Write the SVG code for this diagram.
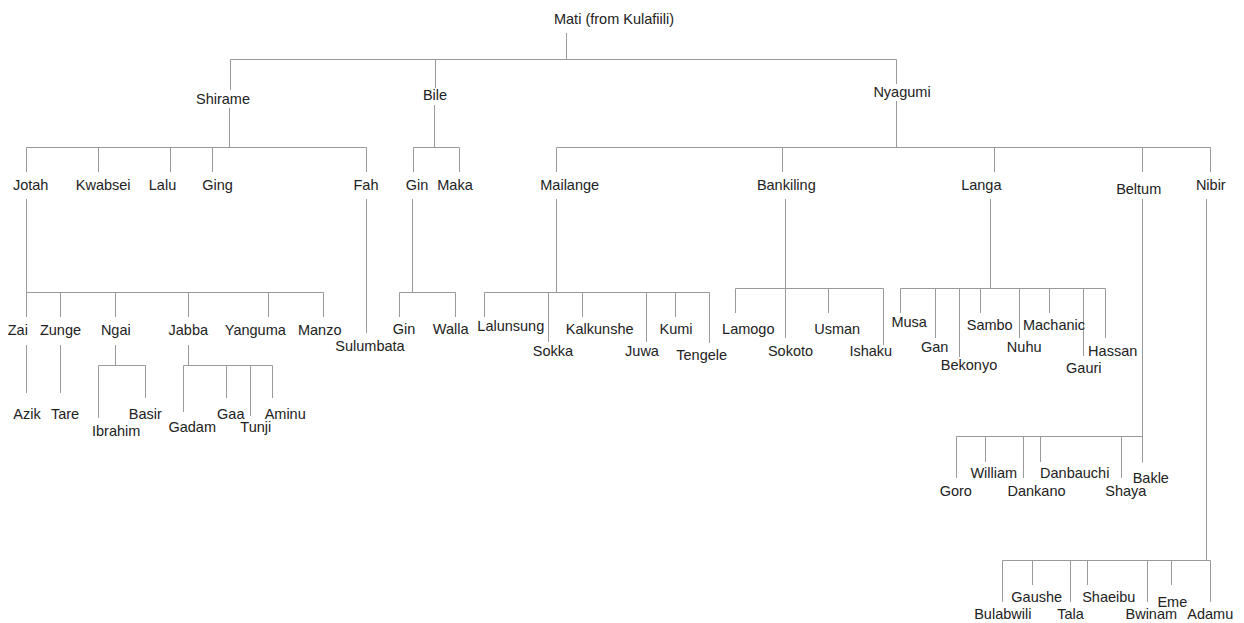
<svg xmlns="http://www.w3.org/2000/svg" width="1244" height="623" viewBox="0 0 1244 623">
  <style>
    .bg { fill: #ffffff; }
    .lines path { fill: none; stroke: #9a9a9a; stroke-width: 1; }
    text { font-family: "Liberation Sans", Arial, sans-serif; font-size: 14.5px; fill: #222222; text-anchor: middle; }
  </style>
  <rect class="bg" x="0" y="0" width="1244" height="623"/>

  <!-- tree connectors -->
  <g id="connectors" class="lines">
    <!-- root -->
    <path d="M566.5 33V59.5M230.5 59.5H896.5"/>
    <!-- Shirame -->
    <path d="M230.5 59.5V90M229.5 108V147.5M26.5 147.5H366.5M26.5 147.5V172M98.5 147.5V172M170.5 147.5V172M212.5 147.5V172M366.5 147.5V172"/>
    <!-- Bile -->
    <path d="M435.5 59.5V88M434.5 105V147.5M413.5 147.5H459.5M413.5 147.5V172M459.5 147.5V172"/>
    <!-- Nyagumi -->
    <path d="M896.5 59.5V84M896.5 101V147.5M556.5 147.5H1210.5M556.5 147.5V172M782.5 147.5V172M994.5 147.5V172M1142.5 147.5V172M1210.5 147.5V172"/>
    <!-- Jotah -->
    <path d="M26.5 199V292.5H323.5M26.5 292.5V317M60.5 292.5V317M115.5 292.5V317M188.5 292.5V317M268.5 292.5V317M323.5 292.5V317"/>
    <!-- Fah -->
    <path d="M366.5 199V333"/>
    <!-- Gin -->
    <path d="M412.5 199V292.5M399.5 292.5H455.5M399.5 292.5V317M455.5 292.5V317"/>
    <!-- Mailange -->
    <path d="M556.5 199V292.5M484.5 292.5H709.5M484.5 292.5V317M548.5 292.5V342M582.5 292.5V317M646.5 292.5V342M675.5 292.5V317M709.5 292.5V343"/>
    <!-- Bankiling -->
    <path d="M785.5 199V338M735.5 288.5H883.5M735.5 288.5V313M828.5 288.5V313M883.5 288.5V345"/>
    <!-- Langa -->
    <path d="M990.5 199V288.5M900.5 288.5H1105.5M900.5 288.5V313M935.5 288.5V338M959.5 288.5V357M980.5 288.5V313M1019.5 288.5V338M1049.5 288.5V313M1083.5 288.5V356M1105.5 288.5V338"/>
    <!-- Beltum -->
    <path d="M1142.5 199V462.5M956.5 436.5H1142.5M956.5 436.5V478M985.5 436.5V462M1023.5 436.5V478M1040.5 436.5V462M1121.5 436.5V478"/>
    <!-- Nibir -->
    <path d="M1206.5 199V560.5M1002.5 560.5H1210.5M1002.5 560.5V602M1032.5 560.5V585M1070.5 560.5V602M1087.5 560.5V585M1147.5 560.5V602M1171.5 560.5V585M1210.5 560.5V602"/>
    <!-- Zai, Zunge -->
    <path d="M26.5 345V393M60.5 345V393"/>
    <!-- Ngai -->
    <path d="M115.5 345V365.5M98.5 365.5H145.5M98.5 365.5V418M145.5 365.5V398"/>
    <!-- Jabba -->
    <path d="M188.5 345V365.5M183.5 365.5H272.5M183.5 365.5V412M226.5 365.5V398M250.5 365.5V416M272.5 365.5V398"/>
  </g>

  <!-- root -->
  <g id="mati"><text x="614" y="24">Mati (from Kulafiili)</text></g>

  <!-- generation 1 -->
  <g id="shirame"><text x="223" y="104">Shirame</text></g>
  <g id="bile"><text x="435" y="100">Bile</text></g>
  <g id="nyagumi"><text x="902" y="96.5">Nyagumi</text></g>

  <!-- generation 2 -->
  <g id="jotah"><text x="30.7" y="189.5">Jotah</text></g>
  <g id="kwabsei"><text x="103.2" y="189.5">Kwabsei</text></g>
  <g id="lalu"><text x="162.5" y="189.5">Lalu</text></g>
  <g id="ging"><text x="217.5" y="189.5">Ging</text></g>
  <g id="fah"><text x="366" y="189.5">Fah</text></g>
  <g id="gin-1"><text x="417" y="189.5">Gin</text></g>
  <g id="maka"><text x="455" y="189.5">Maka</text></g>
  <g id="mailange"><text x="569.7" y="189.5">Mailange</text></g>
  <g id="bankiling"><text x="786.3" y="189.5">Bankiling</text></g>
  <g id="langa"><text x="981.3" y="189.5">Langa</text></g>
  <g id="beltum"><text x="1138.7" y="194">Beltum</text></g>
  <g id="nibir"><text x="1210.8" y="189.5">Nibir</text></g>

  <!-- generation 3 -->
  <g id="zai"><text x="17.8" y="334.5">Zai</text></g>
  <g id="zunge"><text x="60.5" y="334.5">Zunge</text></g>
  <g id="ngai"><text x="115.8" y="334.5">Ngai</text></g>
  <g id="jabba"><text x="188.3" y="334.5">Jabba</text></g>
  <g id="yanguma"><text x="255.3" y="334.5">Yanguma</text></g>
  <g id="manzo"><text x="319.7" y="334.5">Manzo</text></g>
  <g id="sulumbata"><text x="370" y="351">Sulumbata</text></g>
  <g id="gin-2"><text x="404" y="334">Gin</text></g>
  <g id="walla"><text x="450.7" y="334">Walla</text></g>
  <g id="lalunsung"><text x="510.8" y="330.5">Lalunsung</text></g>
  <g id="sokka"><text x="553" y="355.5">Sokka</text></g>
  <g id="kalkunshe"><text x="599.7" y="334">Kalkunshe</text></g>
  <g id="juwa"><text x="642" y="355.5">Juwa</text></g>
  <g id="kumi"><text x="676" y="334">Kumi</text></g>
  <g id="tengele"><text x="701.7" y="359.5">Tengele</text></g>
  <g id="lamogo"><text x="748.3" y="334">Lamogo</text></g>
  <g id="sokoto"><text x="790.5" y="355.5">Sokoto</text></g>
  <g id="usman"><text x="837.2" y="334">Usman</text></g>
  <g id="ishaku"><text x="870.8" y="355.5">Ishaku</text></g>
  <g id="musa"><text x="909.2" y="326.5">Musa</text></g>
  <g id="gan"><text x="934.7" y="352">Gan</text></g>
  <g id="bekonyo"><text x="969" y="370">Bekonyo</text></g>
  <g id="sambo"><text x="989.7" y="330">Sambo</text></g>
  <g id="nuhu"><text x="1024.2" y="351.5">Nuhu</text></g>
  <g id="machanic"><text x="1054" y="330">Machanic</text></g>
  <g id="gauri"><text x="1083.8" y="372.5">Gauri</text></g>
  <g id="hassan"><text x="1112.7" y="355.5">Hassan</text></g>
  <g id="goro"><text x="955.8" y="495.5">Goro</text></g>
  <g id="william"><text x="993.8" y="478">William</text></g>
  <g id="dankano"><text x="1036.5" y="495.5">Dankano</text></g>
  <g id="danbauchi"><text x="1074.7" y="478">Danbauchi</text></g>
  <g id="shaya"><text x="1125.8" y="495.5">Shaya</text></g>
  <g id="bakle"><text x="1150.8" y="482.5">Bakle</text></g>
  <g id="bulabwili"><text x="1002.8" y="619">Bulabwili</text></g>
  <g id="gaushe"><text x="1036.7" y="602">Gaushe</text></g>
  <g id="tala"><text x="1070.5" y="619">Tala</text></g>
  <g id="shaeibu"><text x="1108.8" y="602">Shaeibu</text></g>
  <g id="bwinam"><text x="1151.3" y="619">Bwinam</text></g>
  <g id="eme"><text x="1172.3" y="606.5">Eme</text></g>
  <g id="adamu"><text x="1210.3" y="619">Adamu</text></g>

  <!-- generation 4 -->
  <g id="azik"><text x="27" y="419">Azik</text></g>
  <g id="tare"><text x="65" y="419">Tare</text></g>
  <g id="ibrahim"><text x="116.2" y="436">Ibrahim</text></g>
  <g id="basir"><text x="145.3" y="419">Basir</text></g>
  <g id="gadam"><text x="192.2" y="431.5">Gadam</text></g>
  <g id="gaa"><text x="230.8" y="419">Gaa</text></g>
  <g id="tunji"><text x="255.8" y="431.5">Tunji</text></g>
  <g id="aminu"><text x="285.2" y="419">Aminu</text></g>
</svg>
